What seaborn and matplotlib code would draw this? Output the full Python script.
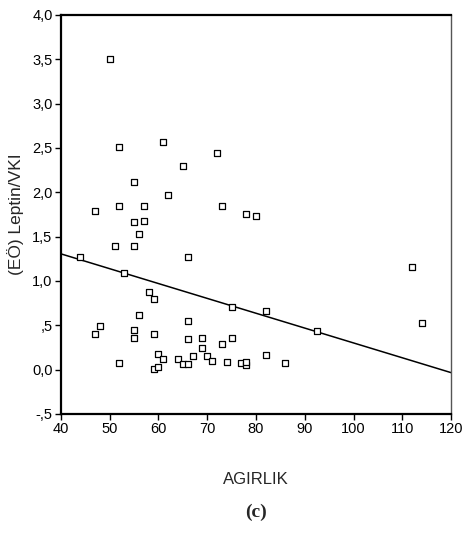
import numpy as np
import pandas as pd
import matplotlib
matplotlib.use("Agg")
import matplotlib.pyplot as plt
import seaborn as sns

agirlik = [44, 47, 47, 48, 50, 51, 52, 52, 52, 53,
           55, 55, 55, 55, 55, 56, 56, 57, 57, 58,
           59, 59, 59, 60, 60, 61, 61, 62, 64, 65,
           65, 66, 66, 66, 66, 67, 69, 69, 70, 71,
           72, 73, 73, 74, 75, 75, 77, 78, 78, 78,
           80, 82, 82, 86, 92.5, 112, 114]
leptin_vki = [1.27, 1.79, 0.40, 0.49, 3.50, 1.39, 2.51, 1.84, 0.07, 1.09,
              2.11, 1.66, 1.39, 0.45, 0.36, 1.53, 0.61, 1.84, 1.67, 0.88,
              0.79, 0.40, 0.01, 0.18, 0.03, 2.57, 0.12, 1.97, 0.12, 2.30,
              0.06, 1.27, 0.55, 0.34, 0.06, 0.15, 0.36, 0.24, 0.15, 0.10,
              2.44, 1.84, 0.29, 0.09, 0.70, 0.36, 0.07, 0.05, 0.09, 1.76,
              1.73, 0.66, 0.16, 0.07, 0.44, 1.16, 0.52]

# fit line as printed in the source figure
fit_intercept = 1.975
fit_slope = -0.01675

x_ticks = [40, 50, 60, 70, 80, 90, 100, 110, 120]
y_ticks = [-0.5, 0.0, 0.5, 1.0, 1.5, 2.0, 2.5, 3.0, 3.5, 4.0]
y_tick_labels = ["-,5", "0,0", ",5", "1,0", "1,5", "2,0", "2,5", "3,0", "3,5", "4,0"]

df = pd.DataFrame({"AGIRLIK": agirlik, "leptin": leptin_vki})
fit_x = np.array([x_ticks[0], x_ticks[-1]])
fit_df = pd.DataFrame({"AGIRLIK": fit_x, "leptin": fit_intercept + fit_slope * fit_x})

sns.set_style("white")
plt.rcParams["font.family"] = ["Liberation Sans", "DejaVu Sans"]

fig = plt.figure(figsize=(4.65, 5.34), dpi=100)
ax = fig.add_axes([0.131, 0.225, 0.839, 0.747])

sns.scatterplot(data=df, x="AGIRLIK", y="leptin", ax=ax, marker="s", s=22,
                facecolor="white", edgecolor="black", linewidth=0.9, zorder=3)
sns.lineplot(data=fit_df, x="AGIRLIK", y="leptin", ax=ax, color="black",
             linewidth=1.1, zorder=2)

ax.set_xlim(40, 120)
ax.set_ylim(-0.5, 4.0)
ax.set_xticks(x_ticks)
ax.set_yticks(y_ticks)
ax.set_yticklabels(y_tick_labels)
ax.tick_params(direction="out", length=4, width=1, labelsize=10.5,
               colors="black", left=True, bottom=True, pad=2)

for side in ["left", "bottom", "top"]:
    ax.spines[side].set_color("black")
    ax.spines[side].set_linewidth(1.6)
ax.spines["right"].set_color("#555555")
ax.spines["right"].set_linewidth(1.0)

ax.set_xlabel("AGIRLIK", fontsize=12, labelpad=26)
ax.set_ylabel("(EÖ) Leptin/VKI", fontsize=12.5, labelpad=6)

fig.text(0.551, 0.04, "(c)", ha="center", va="center", fontsize=14,
         fontweight="bold", family="Liberation Serif")

fig.savefig("out.png", dpi=100)
